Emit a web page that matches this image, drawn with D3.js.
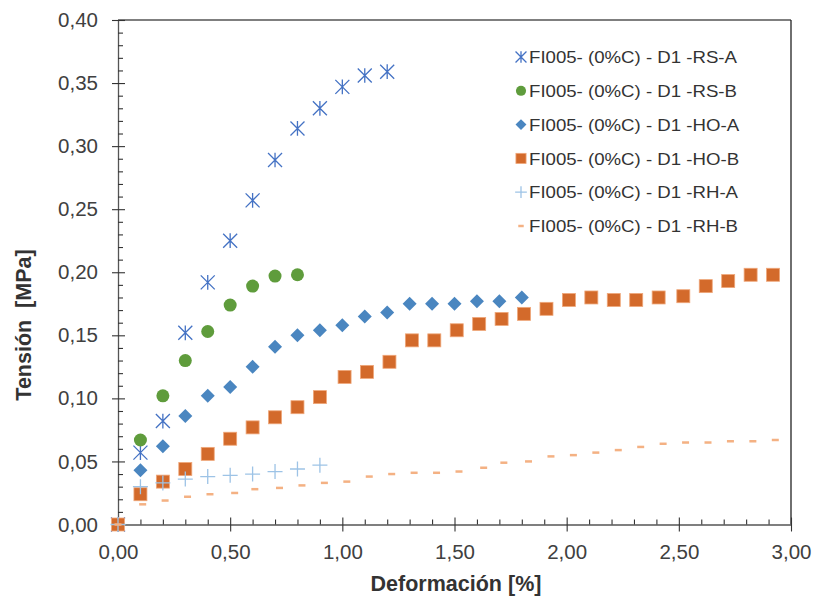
<!DOCTYPE html>
<html><head><meta charset="utf-8">
<script src="https://cdn.jsdelivr.net/npm/d3@7"></script>
<style>body{margin:0;background:#fff}svg{display:block;font-family:"Liberation Sans",Arial,sans-serif}</style>
</head><body><svg id="c" width="816" height="596"></svg>
<script>
// ---- data ----
const seriesNames = ["FI005- (0%C) - D1 -RS-A","FI005- (0%C) - D1 -RS-B","FI005- (0%C) - D1 -HO-A","FI005- (0%C) - D1 -HO-B","FI005- (0%C) - D1 -RH-A","FI005- (0%C) - D1 -RH-B"];
const xTickValues = [0,0.5,1,1.5,2,2.5,3];
const yTickValues = [0,0.05,0.10,0.15,0.20,0.25,0.30,0.35,0.40];
const xAxisTitle = "Deformación [%]";
const yAxisTitle = "Tensión  [MPa]";

const rsA_x = [0,0.1,0.2,0.3,0.4,0.5,0.6,0.7,0.8,0.9,1.0,1.1,1.2];
const rsA_y = [0,0.057,0.082,0.152,0.192,0.225,0.257,0.289,0.314,0.330,0.347,0.356,0.359];
const rsB_x = [0,0.1,0.2,0.3,0.4,0.5,0.6,0.7,0.8];
const rsB_y = [0,0.067,0.102,0.130,0.153,0.174,0.189,0.197,0.198];
const hoA_x = [0,0.1,0.2,0.3,0.4,0.5,0.6,0.7,0.8,0.9,1.0,1.1,1.2,1.3,1.4,1.5,1.6,1.7,1.8];
const hoA_y = [0,0.043,0.062,0.086,0.102,0.109,0.125,0.141,0.150,0.154,0.158,0.165,0.168,0.175,0.175,0.175,0.177,0.177,0.180];
const hoB_x = [0,0.1,0.2,0.3,0.4,0.5,0.6,0.7,0.8,0.9,1.01,1.11,1.21,1.31,1.41,1.51,1.61,1.71,1.81,1.91,2.01,2.11,2.21,2.31,2.41,2.52,2.62,2.72,2.82,2.92];
const hoB_y = [0,0.024,0.034,0.044,0.056,0.068,0.077,0.085,0.093,0.101,0.117,0.121,0.129,0.146,0.146,0.154,0.159,0.163,0.167,0.171,0.178,0.180,0.178,0.178,0.180,0.181,0.189,0.193,0.198,0.198];
const rhA_x = [0,0.1,0.2,0.3,0.4,0.5,0.6,0.7,0.8,0.9];
const rhA_y = [0,0.030,0.033,0.036,0.038,0.039,0.040,0.042,0.044,0.047];
const rhB_x = [0,0.11,0.21,0.31,0.41,0.52,0.61,0.72,0.82,0.92,1.02,1.12,1.22,1.32,1.42,1.52,1.63,1.72,1.83,1.93,2.03,2.13,2.23,2.33,2.43,2.53,2.63,2.73,2.83,2.93];
const rhB_y = [0,0.016,0.019,0.022,0.024,0.025,0.028,0.029,0.031,0.033,0.034,0.038,0.040,0.041,0.041,0.042,0.045,0.049,0.050,0.054,0.055,0.057,0.059,0.0615,0.064,0.065,0.065,0.066,0.066,0.067];

const seriesX = [rsA_x,rsB_x,hoA_x,hoB_x,rhA_x,rhB_x];
const seriesY = [rsA_y,rsB_y,hoA_y,hoB_y,rhA_y,rhB_y];
const markerTypes = ["star","circle","diamond","square","plus","dash"];
const colors = ["#4472C4","#5F9C3C","#4A86C0","#D36A2B","#9DC3E6","#F4B183"];

// ---- chart ----
const svg = d3.select("#c");
const L=118, R=791, T=20, B=524.5;
const x = d3.scaleLinear().domain([0,3]).range([L,R]);
const y = d3.scaleLinear().domain([0,0.4]).range([B,T]);
const fmt = v => d3.format(".2f")(v).replace(".",",");

// frame top/right
svg.append("line").attr("x1",L).attr("x2",R).attr("y1",T).attr("y2",T).attr("stroke","#555").attr("stroke-width",1.3);
svg.append("line").attr("x1",R).attr("x2",R).attr("y1",T).attr("y2",B).attr("stroke","#222").attr("stroke-width",1.3);

const minorX = d3.range(0,31).map(i=>i/10).filter(v=>Math.abs(v*2-Math.round(v*2))>1e-6);
const minorY = d3.range(0,41).map(i=>i/100).filter(v=>Math.abs(v*20-Math.round(v*20))>1e-6);

const gx = svg.append("g").attr("transform",`translate(0,${B})`);
gx.call(d3.axisBottom(x).tickValues(xTickValues).tickFormat(fmt).tickSizeOuter(0).tickSizeInner(7).tickPadding(13));
gx.append("g").call(d3.axisBottom(x).tickValues(minorX).tickFormat("").tickSizeOuter(0).tickSizeInner(-5)).select(".domain").remove();
gx.selectAll(".tick line").filter(function(){return +d3.select(this).attr("y2")>0;}).attr("y1",-7);

const gy = svg.append("g").attr("transform",`translate(${L},0)`);
gy.call(d3.axisLeft(y).tickValues(yTickValues).tickFormat(fmt).tickSizeOuter(0).tickSizeInner(6).tickPadding(14));
gy.append("g").call(d3.axisLeft(y).tickValues(minorY).tickFormat("").tickSizeOuter(0).tickSizeInner(-5)).select(".domain").remove();
gy.selectAll(".tick line").filter(function(){return +d3.select(this).attr("x2")<0;}).attr("x1",7);

svg.selectAll(".domain").attr("stroke","#555").attr("stroke-width",1.3);
svg.selectAll(".tick line").attr("stroke","#333").attr("stroke-width",1.1);
svg.selectAll(".tick text").attr("font-size",20.5).attr("fill","#404040").attr("font-family","'Liberation Sans',Arial,sans-serif");

svg.append("text").attr("x",456).attr("y",590.5).attr("text-anchor","middle").attr("font-size",21.5).attr("font-weight","bold").attr("fill","#333").text(xAxisTitle);
svg.append("text").attr("transform","translate(31,325) rotate(-90)").attr("text-anchor","middle").style("white-space","pre").attr("font-size",21.5).attr("font-weight","bold").attr("fill","#333").text(yAxisTitle);

function marker(g,type,cx,cy,s,color){
  const h = 7*s;
  if(type==="star"){
    const p = `M${cx-h},${cy-h}L${cx+h},${cy+h}M${cx-h},${cy+h}L${cx+h},${cy-h}M${cx},${cy-h*1.05}L${cx},${cy+h*1.05}`;
    g.append("path").attr("d",p).attr("stroke",color).attr("stroke-width",1.3).attr("fill","none");
  } else if(type==="circle"){
    g.append("circle").attr("cx",cx).attr("cy",cy).attr("r",6.5*s).attr("fill",color);
  } else if(type==="diamond"){
    const d=7*s;
    g.append("path").attr("d",`M${cx},${cy-d}L${cx+d},${cy}L${cx},${cy+d}L${cx-d},${cy}Z`).attr("fill",color);
  } else if(type==="square"){
    const d=6.5*s;
    g.append("rect").attr("x",cx-d).attr("y",cy-d).attr("width",2*d).attr("height",2*d).attr("fill",color).attr("stroke","#EFA77A").attr("stroke-width",0.8);
  } else if(type==="plus"){
    const d=7.5*s;
    g.append("path").attr("d",`M${cx-d},${cy}L${cx+d},${cy}M${cx},${cy-d}L${cx},${cy+d}`).attr("stroke",color).attr("stroke-width",1.3).attr("fill","none");
  } else if(type==="dash"){
    const d=3.5*s;
    g.append("path").attr("d",`M${cx-d},${cy}L${cx+d},${cy}`).attr("stroke",color).attr("stroke-width",2.5).attr("fill","none");
  }
}

const plot = svg.append("g");
seriesX.forEach((xs,si)=>{
  const g = plot.append("g");
  xs.forEach((xv,i)=>marker(g,markerTypes[si],x(xv),y(seriesY[si][i]),1,colors[si]));
});

// legend
const leg = svg.append("g");
const legY = d3.scaleLinear().domain([0,5]).range([57,226]);
let stretch = null;
seriesNames.forEach((n,i)=>{
  const g = leg.append("g");
  marker(g,markerTypes[i],521,legY(i),0.78,colors[i]);
  const t = g.append("text").attr("x",529).attr("y",legY(i)).attr("dy","0.36em").attr("font-size",17).attr("fill","#333").text(n);
  const w = t.node().getComputedTextLength();
  if(stretch===null) stretch = 208 / w;
  t.attr("textLength",w*stretch).attr("lengthAdjust","spacingAndGlyphs");
});
</script></body></html>
